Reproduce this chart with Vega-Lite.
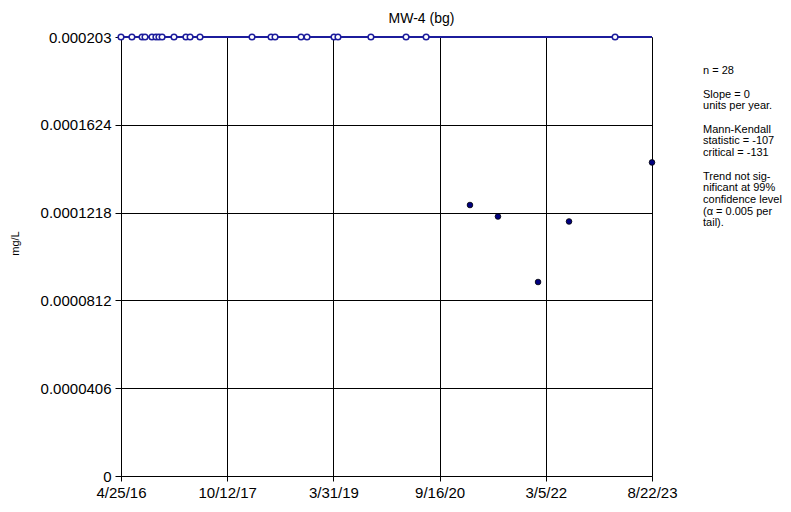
{
  "$schema": "https://vega.github.io/schema/vega-lite/v6.json",
  "autosize": {"type": "none"},
  "width": 531,
  "height": 439,
  "padding": {"left": 121, "top": 37, "right": 139, "bottom": 36},
  "background": "white",
  "config": {
    "font": "Liberation Sans",
    "view": {"stroke": null},
    "axis": {"labelFont": "Liberation Sans", "titleFont": "Liberation Sans", "labelColor": "black", "titleColor": "black"}
  },
  "title": {
    "text": "MW-4 (bg)",
    "font": "Liberation Sans",
    "fontSize": 14,
    "fontWeight": "normal",
    "color": "black",
    "anchor": "middle",
    "frame": "group",
    "dx": 35,
    "baseline": "alphabetic",
    "offset": -7
  },
  "datasets": {
    "obs": [
      {"date": "2016-04-25", "value": 0.000203, "nd": true},
      {"date": "2016-06-19", "value": 0.000203, "nd": true},
      {"date": "2016-08-09", "value": 0.000203, "nd": true},
      {"date": "2016-08-24", "value": 0.000203, "nd": true},
      {"date": "2016-09-28", "value": 0.000203, "nd": true},
      {"date": "2016-10-18", "value": 0.000203, "nd": true},
      {"date": "2016-11-02", "value": 0.000203, "nd": true},
      {"date": "2016-11-18", "value": 0.000203, "nd": true},
      {"date": "2017-01-17", "value": 0.000203, "nd": true},
      {"date": "2017-03-18", "value": 0.000203, "nd": true},
      {"date": "2017-04-08", "value": 0.000203, "nd": true},
      {"date": "2017-05-28", "value": 0.000203, "nd": true},
      {"date": "2018-02-14", "value": 0.000203, "nd": true},
      {"date": "2018-05-21", "value": 0.000203, "nd": true},
      {"date": "2018-06-10", "value": 0.000203, "nd": true},
      {"date": "2018-10-19", "value": 0.000203, "nd": true},
      {"date": "2018-11-18", "value": 0.000203, "nd": true},
      {"date": "2019-04-03", "value": 0.000203, "nd": true},
      {"date": "2019-04-23", "value": 0.000203, "nd": true},
      {"date": "2019-10-06", "value": 0.000203, "nd": true},
      {"date": "2020-03-31", "value": 0.000203, "nd": true},
      {"date": "2020-07-10", "value": 0.000203, "nd": true},
      {"date": "2021-02-16", "value": 0.0001253, "nd": false},
      {"date": "2021-07-07", "value": 0.0001200, "nd": false},
      {"date": "2022-01-25", "value": 0.0000897, "nd": false},
      {"date": "2022-06-30", "value": 0.0001177, "nd": false},
      {"date": "2023-02-17", "value": 0.000203, "nd": true},
      {"date": "2023-08-22", "value": 0.0001450, "nd": false}
    ],
    "trend": [
      {"date": "2016-04-25", "value": 0.000203},
      {"date": "2023-08-22", "value": 0.000203}
    ]
  },
  "layer": [
    {
      "data": {"name": "trend"},
      "mark": {"type": "line", "color": "#1c1c9c", "strokeWidth": 2},
      "encoding": {
        "x": {
          "field": "date", "type": "temporal",
          "scale": {"type": "utc", "domain": [{"year": 2016, "month": 4, "date": 25, "utc": true}, {"year": 2023, "month": 8, "date": 22, "utc": true}], "nice": false},
          "axis": {
            "title": null,
            "values": [
              {"year": 2016, "month": 4, "date": 25, "utc": true},
              {"year": 2017, "month": 10, "date": 12, "utc": true},
              {"year": 2019, "month": 3, "date": 31, "utc": true},
              {"year": 2020, "month": 9, "date": 16, "utc": true},
              {"year": 2022, "month": 3, "date": 5, "utc": true},
              {"year": 2023, "month": 8, "date": 22, "utc": true}
            ],
            "labelExpr": "utcFormat(datum.value, '%-m/%-d/%y')",
            "labelFontSize": 15,
            "labelFlush": false,
            "labelOverlap": false,
            "labelPadding": 4,
            "tickSize": 5,
            "tickColor": "black",
            "domainColor": "black",
            "grid": true,
            "gridColor": "black",
            "gridWidth": 1,
            "gridOpacity": 1
          }
        },
        "y": {
          "field": "value", "type": "quantitative",
          "scale": {"domain": [0, 0.000203], "nice": false, "zero": true},
          "axis": {
            "title": "mg/L",
            "titleFontSize": 11,
            "titleFontWeight": "normal",
            "titleX": -106,
            "titleY": 206,
            "titleAngle": -90,
            "titleAlign": "center",
            "titleBaseline": "middle",
            "values": [0, 0.0000406, 0.0000812, 0.0001218, 0.0001624, 0.000203],
            "labelExpr": "format(datum.value, '.7~f')",
            "labelFontSize": 15,
            "labelPadding": 4,
            "tickSize": 6,
            "tickColor": "black",
            "domainColor": "black",
            "grid": true,
            "gridColor": "black",
            "gridWidth": 1,
            "gridOpacity": 1
          }
        }
      }
    },
    {
      "data": {"name": "obs"},
      "transform": [{"filter": "datum.nd"}],
      "mark": {"type": "point", "shape": "circle", "filled": true, "fill": "white", "stroke": "#1c1c9c", "strokeWidth": 1.5, "size": 32, "opacity": 1},
      "encoding": {
        "x": {"field": "date", "type": "temporal"},
        "y": {"field": "value", "type": "quantitative"}
      }
    },
    {
      "data": {"name": "obs"},
      "transform": [{"filter": "!datum.nd"}],
      "mark": {"type": "point", "shape": "circle", "filled": true, "fill": "#000080", "stroke": "black", "strokeWidth": 0.8, "size": 32, "opacity": 1},
      "encoding": {
        "x": {"field": "date", "type": "temporal"},
        "y": {"field": "value", "type": "quantitative"}
      }
    },
    {
      "data": {"values": [{"note": ["n = 28"]}]},
      "mark": {"type": "text", "align": "left", "baseline": "alphabetic", "fontSize": 11, "lineHeight": 11.7, "color": "black"},
      "encoding": {
        "x": {"datum": {"year": 2024, "month": 5, "date": 5, "utc": true}, "type": "temporal"},
        "y": {"datum": 0.00018575, "type": "quantitative"},
        "text": {"field": "note"}
      }
    },
    {
      "data": {"values": [{"note": ["Slope = 0", "units per year."]}]},
      "mark": {"type": "text", "align": "left", "baseline": "alphabetic", "fontSize": 11, "lineHeight": 11.7, "color": "black"},
      "encoding": {
        "x": {"datum": {"year": 2024, "month": 5, "date": 5, "utc": true}, "type": "temporal"},
        "y": {"datum": 0.00017493, "type": "quantitative"},
        "text": {"field": "note"}
      }
    },
    {
      "data": {"values": [{"note": ["Mann-Kendall", "statistic = -107", "critical = -131"]}]},
      "mark": {"type": "text", "align": "left", "baseline": "alphabetic", "fontSize": 11, "lineHeight": 11.7, "color": "black"},
      "encoding": {
        "x": {"datum": {"year": 2024, "month": 5, "date": 5, "utc": true}, "type": "temporal"},
        "y": {"datum": 0.0001587, "type": "quantitative"},
        "text": {"field": "note"}
      }
    },
    {
      "data": {"values": [{"note": ["Trend not sig-", "nificant at 99%", "confidence level", "(α = 0.005 per", "tail)."]}]},
      "mark": {"type": "text", "align": "left", "baseline": "alphabetic", "fontSize": 11, "lineHeight": 11.7, "color": "black"},
      "encoding": {
        "x": {"datum": {"year": 2024, "month": 5, "date": 5, "utc": true}, "type": "temporal"},
        "y": {"datum": 0.00013706, "type": "quantitative"},
        "text": {"field": "note"}
      }
    }
  ]
}
